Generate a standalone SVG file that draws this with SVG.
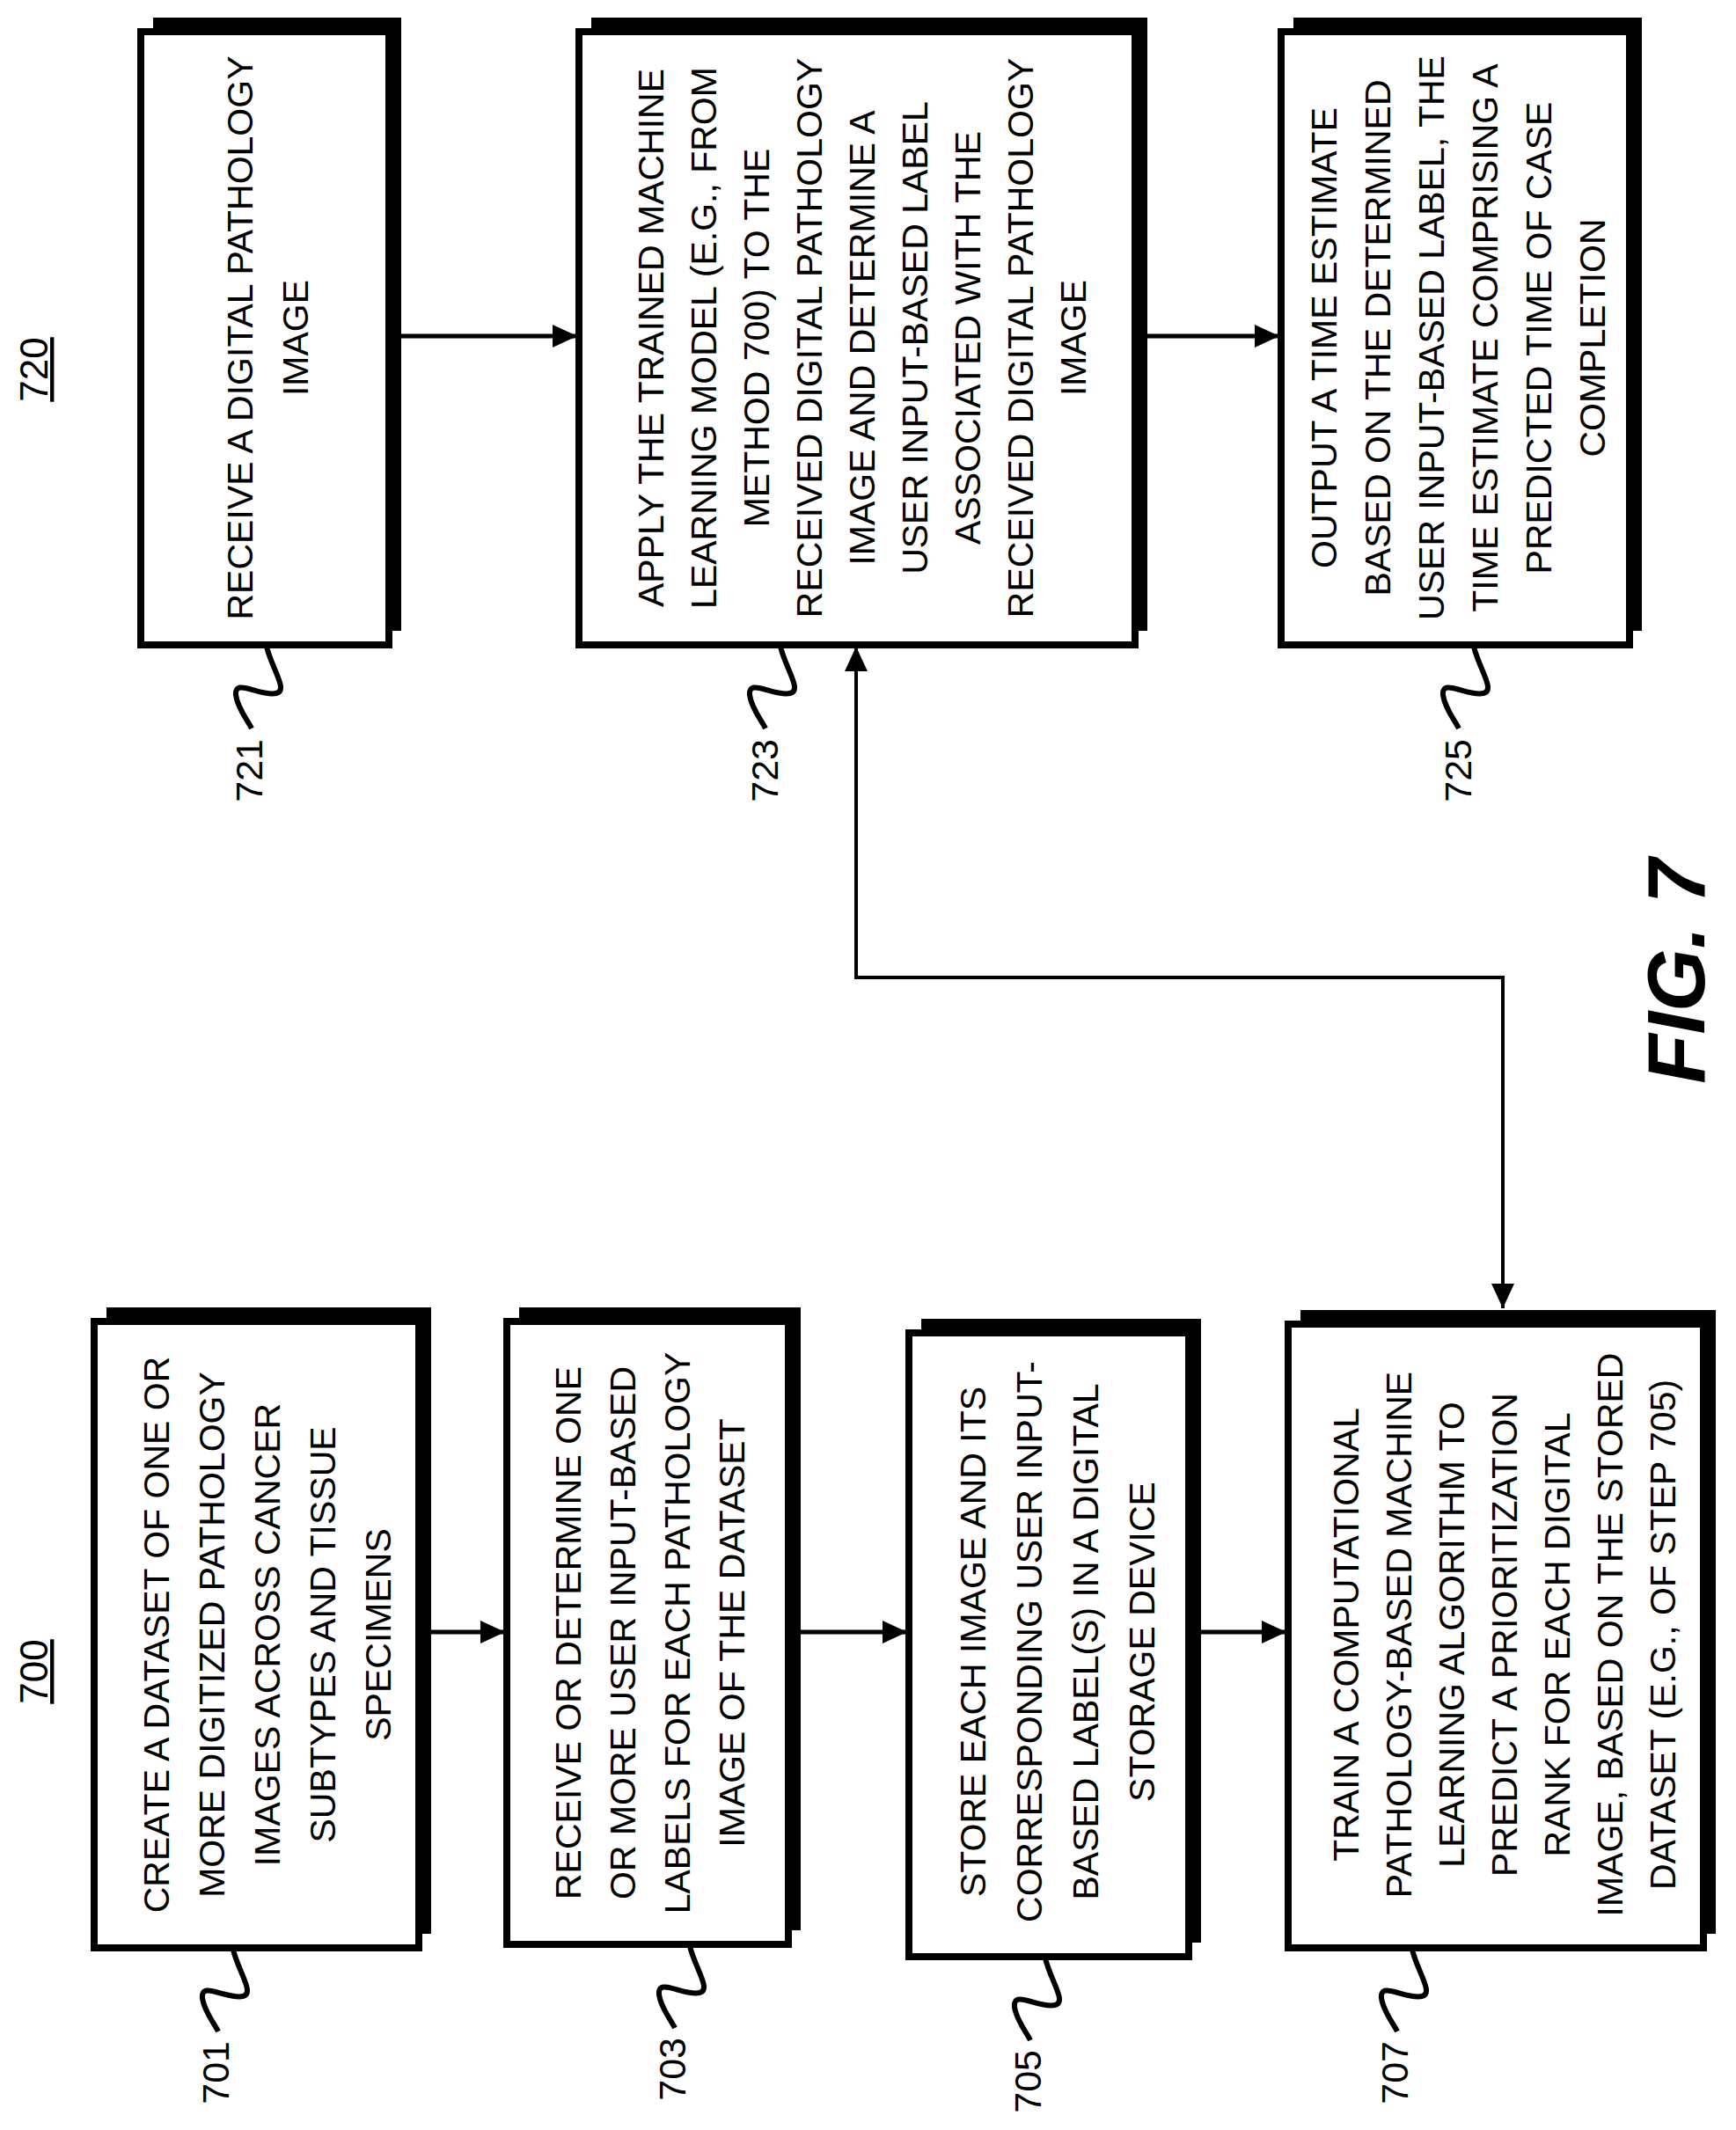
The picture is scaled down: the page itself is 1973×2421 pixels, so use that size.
<svg xmlns="http://www.w3.org/2000/svg" width="1973" height="2421" viewBox="0 0 1973 2421">
<style>
.sh{fill:#000}
.bx{fill:#fff;stroke:#000;stroke-width:8}
.t{font-family:"Liberation Sans",Arial,sans-serif;font-size:41px;text-anchor:middle;fill:#000}
.lb{font-family:"Liberation Sans",Arial,sans-serif;font-size:43px;text-anchor:end;fill:#000}
.sq{fill:none;stroke:#000;stroke-width:6}
.ln{fill:none;stroke:#000;stroke-width:5}
</style>
<defs>
<marker id="a" viewBox="0 0 28 26" refX="28" refY="13" markerWidth="28" markerHeight="26" markerUnits="userSpaceOnUse" orient="auto-start-reverse"><path d="M0,0 L28,13 L0,26 Z" fill="#000"/></marker>
</defs>

<g transform="translate(54,420) rotate(-90)"><text class="t" style="font-size:44px;text-decoration:underline">720</text></g>
<g transform="translate(54,1900) rotate(-90)"><text class="t" style="font-size:44px;text-decoration:underline">700</text></g>

<g id="n721">
<rect class="sh" x="174" y="20" width="282" height="697"/>
<rect class="bx" x="160" y="36" width="282" height="697"/>
<g transform="translate(0,384) rotate(-90)" class="t"><text x="0" y="287">RECEIVE A DIGITAL PATHOLOGY</text><text x="0" y="350">IMAGE</text></g>
<path class="sq" d="M303,735 C309,760 328,785 314,788 C296,792 266,770 268,790 C270,805 281,818 286,828"/>
<text class="lb" transform="translate(298,840) rotate(-90)">721</text>
</g>

<g id="n723">
<rect class="sh" x="672" y="20" width="632" height="697"/>
<rect class="bx" x="658" y="36" width="632" height="697"/>
<g transform="translate(0,384) rotate(-90)" class="t">
<text y="754">APPLY THE TRAINED MACHINE</text>
<text y="814">LEARNING MODEL (E.G., FROM</text>
<text y="874">METHOD 700) TO THE</text>
<text y="934">RECEIVED DIGITAL PATHOLOGY</text>
<text y="994">IMAGE AND DETERMINE A</text>
<text y="1054">USER INPUT-BASED LABEL</text>
<text y="1114">ASSOCIATED WITH THE</text>
<text y="1174">RECEIVED DIGITAL PATHOLOGY</text>
<text y="1234">IMAGE</text>
</g>
<path class="sq" d="M887,735 C893,760 912,785 898,788 C880,792 850,770 852,790 C854,805 865,818 870,828"/>
<text class="lb" transform="translate(884,840) rotate(-90)">723</text>
</g>

<g id="n725">
<rect class="sh" x="1470" y="20" width="396" height="697"/>
<rect class="bx" x="1456" y="36" width="396" height="697"/>
<g transform="translate(0,384) rotate(-90)" class="t">
<text y="1519">OUTPUT A TIME ESTIMATE</text>
<text y="1580">BASED ON THE DETERMINED</text>
<text y="1641">USER INPUT-BASED LABEL, THE</text>
<text y="1702">TIME ESTIMATE COMPRISING A</text>
<text y="1763">PREDICTED TIME OF CASE</text>
<text y="1824">COMPLETION</text>
</g>
<path class="sq" d="M1675,735 C1681,760 1700,785 1686,788 C1668,792 1638,770 1640,790 C1642,805 1653,818 1658,828"/>
<text class="lb" transform="translate(1672,840) rotate(-90)">725</text>
</g>

<g id="n701">
<rect class="sh" x="121" y="1486" width="369" height="712"/>
<rect class="bx" x="107" y="1502" width="369" height="712"/>
<g transform="translate(0,1858) rotate(-90)" class="t">
<text y="192">CREATE A DATASET OF ONE OR</text>
<text y="255">MORE DIGITIZED PATHOLOGY</text>
<text y="318">IMAGES ACROSS CANCER</text>
<text y="381">SUBTYPES AND TISSUE</text>
<text y="444">SPECIMENS</text>
</g>
<path class="sq" d="M265,2216 C271,2241 290,2266 276,2269 C258,2273 228,2251 230,2271 C232,2286 243,2299 248,2309"/>
<text class="lb" transform="translate(260,2320) rotate(-90)">701</text>
</g>

<g id="n703">
<rect class="sh" x="590" y="1486" width="320" height="708"/>
<rect class="bx" x="576" y="1502" width="320" height="708"/>
<g transform="translate(0,1856) rotate(-90)" class="t">
<text y="660">RECEIVE OR DETERMINE ONE</text>
<text y="722">OR MORE USER INPUT-BASED</text>
<text y="784">LABELS FOR EACH PATHOLOGY</text>
<text y="846">IMAGE OF THE DATASET</text>
</g>
<path class="sq" d="M784,2212 C790,2237 809,2262 795,2265 C777,2269 747,2247 749,2267 C751,2282 762,2295 767,2305"/>
<text class="lb" transform="translate(779,2316) rotate(-90)">703</text>
</g>

<g id="n705">
<rect class="sh" x="1047" y="1499" width="318" height="709"/>
<rect class="bx" x="1033" y="1515" width="318" height="709"/>
<g transform="translate(0,1866) rotate(-90)" class="t">
<text y="1120">STORE EACH IMAGE AND ITS</text>
<text y="1184">CORRESPONDING USER INPUT-</text>
<text y="1248">BASED LABEL(S) IN A DIGITAL</text>
<text y="1312">STORAGE DEVICE</text>
</g>
<path class="sq" d="M1188,2226 C1194,2251 1213,2276 1199,2279 C1181,2283 1151,2261 1153,2281 C1155,2296 1166,2309 1171,2319"/>
<text class="lb" transform="translate(1183,2330) rotate(-90)">705</text>
</g>

<g id="n707">
<rect class="sh" x="1478" y="1489" width="472" height="709"/>
<rect class="bx" x="1464" y="1505" width="472" height="709"/>
<g transform="translate(0,1858) rotate(-90)" class="t">
<text y="1544">TRAIN A COMPUTATIONAL</text>
<text y="1604">PATHOLOGY-BASED MACHINE</text>
<text y="1664">LEARNING ALGORITHM TO</text>
<text y="1724">PREDICT A PRIORITIZATION</text>
<text y="1784">RANK FOR EACH DIGITAL</text>
<text y="1844">IMAGE, BASED ON THE STORED</text>
<text y="1904">DATASET (E.G., OF STEP 705)</text>
</g>
<path class="sq" d="M1605,2216 C1611,2241 1630,2266 1616,2269 C1598,2273 1568,2251 1570,2271 C1572,2286 1583,2299 1588,2309"/>
<text class="lb" transform="translate(1600,2320) rotate(-90)">707</text>
</g>

<g id="connectors">
<path class="ln" d="M442,382 H656" marker-end="url(#a)"/>
<path class="ln" d="M1290,382 H1454" marker-end="url(#a)"/>
<path class="ln" d="M476,1855 H574" marker-end="url(#a)"/>
<path class="ln" d="M896,1855 H1031" marker-end="url(#a)"/>
<path class="ln" d="M1351,1855 H1462" marker-end="url(#a)"/>
<path class="ln" style="stroke-width:4" d="M973,735 V1111 H1708 V1487" marker-start="url(#a)" marker-end="url(#a)"/>
</g>

<text transform="translate(1937,1104) rotate(-90)" style="font-family:'Liberation Sans',Arial,sans-serif;font-size:92px;font-weight:bold;font-style:italic;text-anchor:middle">FIG. 7</text>
</svg>
